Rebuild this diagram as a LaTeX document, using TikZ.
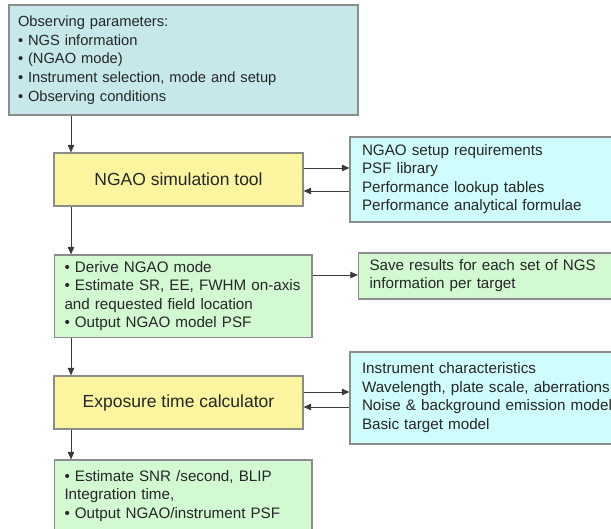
\documentclass[tikz,border=0pt]{standalone}
\usepackage{fontspec}
\setmainfont{Liberation Sans}
\usetikzlibrary{arrows.meta}
\definecolor{tealbox}{HTML}{C6E8EA}
\definecolor{yelbox}{HTML}{FAF59E}
\definecolor{cyanbox}{HTML}{CFFCFD}
\definecolor{grnbox}{HTML}{D2F9D2}
\definecolor{edgegray}{HTML}{8C8C8C}
\definecolor{txt}{HTML}{262626}
\definecolor{arr}{HTML}{3A3A3A}
\begin{document}
\begin{tikzpicture}[x=1pt,y=-1pt,
  box/.style={draw=edgegray, line width=1.2pt, inner ysep=0pt, text=txt,
    font=\fontsize{15.2}{18.5}\selectfont, align=left},
  titlebox/.style={draw=edgegray, line width=1.2pt, fill=yelbox, text=txt,
    font=\fontsize{17.5}{21}\selectfont, align=center, minimum width=249pt, minimum height=53pt},
  conn/.style={draw=arr, line width=0.9pt, -{Triangle[length=7.5pt,width=6.5pt]}}]
\useasboundingbox (0,0) rectangle (611,529);
\clip (0,0) rectangle (611,529);
\coordinate (colx) at (71,0);
% top box
\node[box, fill=tealbox, inner xsep=9pt, text width=331pt, minimum height=110pt,
  font=\fontsize{14.7}{18.7}\selectfont] (obs) at (183.5,60)
  {\begin{tabular}{@{}l@{}}Observing parameters:\\
   • NGS information\\
   • (NGAO mode)\\
   • Instrument selection, mode and setup\\
   • Observing conditions\end{tabular}};
% NGAO simulation tool
\node[titlebox] (sim) at (178.5,179.5) {NGAO simulation tool};
\node[box, fill=cyanbox, inner xsep=12pt, text width=251pt, minimum height=85pt] (lib) at (487.5,179.5)
  {\begin{tabular}{@{}l@{}}NGAO setup requirements\\
   PSF library\\
   Performance lookup tables\\
   Performance analytical formulae\end{tabular}};
% results box
\node[box, fill=grnbox, inner xsep=10pt, text width=237.5pt, minimum height=82.5pt] (res) at (183.25,296.25)
  {\begin{tabular}{@{}l@{}}• Derive NGAO mode\\
   • Estimate SR, EE, FWHM on-axis\\
   and requested field location\\
   • Output NGAO model PSF\end{tabular}};
\node[box, fill=grnbox, inner xsep=11pt, text width=246pt, minimum height=46pt] (save) at (492.5,276)
  {\begin{tabular}{@{}l@{}}Save results for each set of NGS\\
   information per target\end{tabular}};
% Exposure time calculator
\node[titlebox] (etc) at (178.5,402.5) {Exposure time calculator};
\node[box, fill=cyanbox, inner xsep=12pt, text width=251pt, minimum height=92pt] (inst) at (487.5,398)
  {\begin{tabular}{@{}l@{}}Instrument characteristics\\
   Wavelength, plate scale, aberrations\\
   Noise \& background emission model\\
   Basic target model\end{tabular}};
\node[box, fill=grnbox, inner xsep=10pt, text width=237.5pt, minimum height=72pt] (out) at (183.25,496)
  {\begin{tabular}{@{}l@{}}• Estimate SNR /second, BLIP\\
   Integration time,\\
   • Output NGAO/instrument PSF\end{tabular}};
% connectors
\draw[conn] (obs.south -| colx) -- (sim.north -| colx);
\draw[conn] ([yshift=11.5pt]sim.east) -- ([yshift=11.5pt]sim.east -| lib.west);
\draw[conn] ([yshift=-11.5pt]sim.east -| lib.west) -- ([yshift=-11.5pt]sim.east);
\draw[conn] (sim.south -| colx) -- (res.north -| colx);
\draw[conn] ([yshift=21.25pt]res.east) -- ([yshift=21.25pt]res.east -| save.west);
\draw[conn] (res.south -| colx) -- (etc.north -| colx);
\draw[conn] ([yshift=10.5pt]etc.east) -- ([yshift=10.5pt]etc.east -| inst.west);
\draw[conn] ([yshift=-4.5pt]etc.east -| inst.west) -- ([yshift=-4.5pt]etc.east);
\draw[conn] (etc.south -| colx) -- (out.north -| colx);
\end{tikzpicture}
\end{document}
